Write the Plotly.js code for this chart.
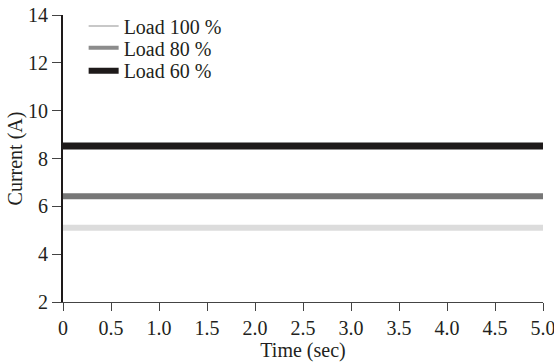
<!DOCTYPE html>
<html><head><meta charset="utf-8">
<script src="https://cdn.plot.ly/plotly-3.0.1.min.js"></script>
<style>html,body{margin:0;padding:0;background:#fff}#chart{width:554px;height:362px}</style>
</head><body><div id="chart"></div>
<script>
const seriesNames = ["Load 100 %", "Load 80 %", "Load 60 %"];
const timeSec = [0, 5.0];
const load100 = [5.1, 5.1];
const load80 = [6.42, 6.42];
const load60 = [8.52, 8.52];
const xTicks = [0, 0.5, 1.0, 1.5, 2.0, 2.5, 3.0, 3.5, 4.0, 4.5, 5.0];
const xTickText = ["0", "0.5", "1.0", "1.5", "2.0", "2.5", "3.0", "3.5", "4.0", "4.5", "5.0"];
const yTicks = [2, 4, 6, 8, 10, 12, 14];

const lineColors = ["#dcdcdc", "#777777", "#1e1a1a"];
const legendColors = ["#c8c8c8", "#8c8c8c", "#1e1a1a"];
const chartWidths = [6, 6, 7];
const legendWidths = [2, 4, 6];
const seriesValues = [load100, load80, load60];
const legendIds = ["legend", "legend2", "legend3"];
const legendRowY = [0.962, 0.886, 0.806];

const traces = [];
seriesValues.forEach((vals, i) => {
  traces.push({x: timeSec, y: vals, mode: "lines", name: seriesNames[i],
    line: {color: lineColors[i], width: chartWidths[i]}, showlegend: false, hoverinfo: "skip"});
});
seriesValues.forEach((vals, i) => {
  traces.push({x: [null], y: [null], mode: "lines", name: seriesNames[i], legend: legendIds[i],
    line: {color: legendColors[i], width: legendWidths[i]}, showlegend: true});
});

const fam = "Liberation Serif, Times New Roman, serif";
const tickFont = {family: fam, size: 20, color: "#231f20"};
const titleFont = {family: fam, size: 20, color: "#231f20"};
const legFont = {family: fam, size: 20, color: "#231f20"};
const layout = {
  width: 554, height: 362,
  margin: {l: 63, r: 11, t: 15, b: 60, autoexpand: false},
  paper_bgcolor: "#fff", plot_bgcolor: "#fff",
  font: tickFont,
  showlegend: true,
  xaxis: {range: [0, 5.0], tickvals: xTicks, ticktext: xTickText, showgrid: false, zeroline: false,
    showline: true, linecolor: "#444", linewidth: 1.2, ticks: "outside", ticklen: 8, tickcolor: "#444",
    ticklabeloverflow: "allow",
    tickfont: tickFont, title: {text: "Time (sec)", font: titleFont, standoff: 2}},
  yaxis: {range: [2, 14], tickvals: yTicks, showgrid: false, zeroline: false,
    showline: true, linecolor: "#1e1a1a", linewidth: 2, ticks: "outside", ticklen: 9, tickcolor: "#444",
    ticklabeloverflow: "allow",
    tickfont: tickFont, title: {text: "Current (A)", font: titleFont, standoff: 0}}
};
legendIds.forEach((id, i) => {
  layout[id] = {x: 0.043, y: legendRowY[i], xanchor: "left", yanchor: "middle",
    bgcolor: "rgba(0,0,0,0)", font: legFont, itemwidth: 30};
});
Plotly.newPlot("chart", traces, layout, {displayModeBar: false, staticPlot: true});
</script></body></html>
